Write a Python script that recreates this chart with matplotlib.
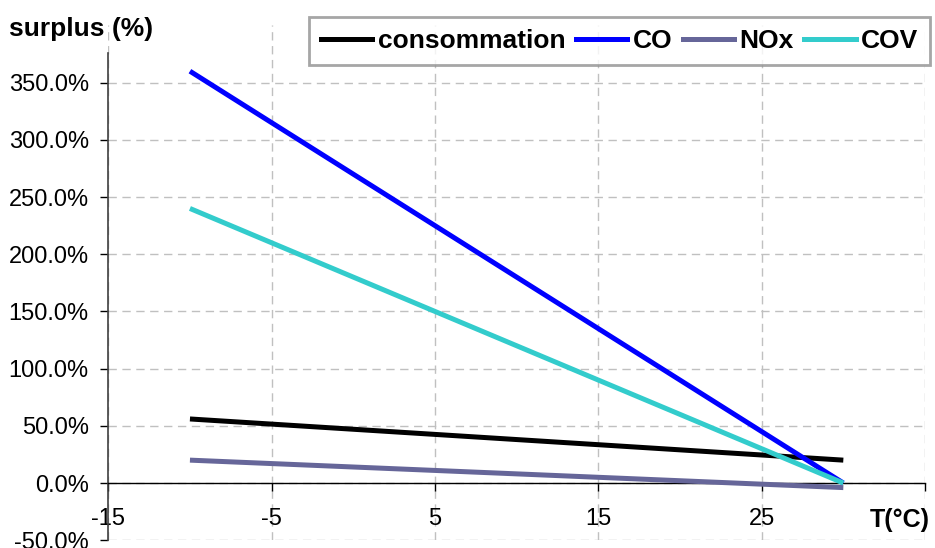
import matplotlib
matplotlib.use("Agg")
import matplotlib.pyplot as plt
from matplotlib.lines import Line2D

plt.rcParams['font.family'] = ['Liberation Sans', 'DejaVu Sans']

# data
temps = [-10, 30]
consommation = [56, 20]
co = [360, 0]
nox = [20, -4]
cov = [240, 0]

series_names = ['consommation', 'CO', 'NOx', 'COV']
series_colors = ['#000000', '#0000ff', '#666699', '#33cccc']

xticks = [-15, -5, 5, 15, 25, 35]
xtick_labels = ['-15', '-5', '5', '15', '25', '']
yticks = [-50, 0, 50, 100, 150, 200, 250, 300, 350]
ytick_labels = ['%.1f%%' % v for v in yticks]

fig = plt.figure(figsize=(9.35, 5.48), dpi=100)
ax = fig.add_axes([0.1158, 0.0142, 0.9893 - 0.1158, 0.9536 - 0.0142])

for vals, name, col in zip([consommation, co, nox, cov], series_names, series_colors):
    ax.plot(temps, vals, color=col, lw=3.6, label=name, solid_capstyle='butt', zorder=3)

ax.set_xlim(-15, 35)
ax.set_ylim(-50, 400)
ax.set_xticks(xticks)
ax.set_xticklabels(xtick_labels)
ax.set_yticks(yticks)
ax.set_yticklabels(ytick_labels)

# gridlines
ax.grid(True, color='#c0c0c0', linestyle=(0, (6, 4)), lw=1)
ax.set_axisbelow(True)

# axes: x axis crosses at 0
ax.spines['top'].set_visible(False)
ax.spines['right'].set_visible(False)
ax.spines['bottom'].set_position(('data', 0))
ax.spines['bottom'].set_linewidth(1.0)
ax.spines['left'].set_bounds(-50, 376)
ax.spines['left'].set_linewidth(1.2)
ax.spines['left'].set_color('#404040')

ax.tick_params(axis='x', direction='out', length=6, width=1, labelsize=17, pad=12)
ax.tick_params(axis='y', direction='out', length=6, width=1, labelsize=17, pad=8)

fig.text(9 / 935, 1 - 36 / 548, 'surplus (%)', fontsize=19, fontweight='bold',
         ha='left', va='baseline')
fig.text(870 / 935, 1 - 527 / 548, 'T(°C)', fontsize=18, fontweight='bold',
         ha='left', va='baseline')

handles = [Line2D([0], [0], color=c, lw=3.6) for c in series_colors]
leg = fig.legend(handles, series_names, loc='upper left',
                 bbox_to_anchor=(309 / 935, 1 - 17 / 548), borderaxespad=0,
                 ncol=4, frameon=True, fancybox=False, handlelength=1.95,
                 handletextpad=0.2, columnspacing=0.4, borderpad=0.45,
                 prop={'size': 19, 'weight': 'bold'})
leg.get_frame().set_edgecolor('#909090')
leg.get_frame().set_linewidth(2)

fig.savefig('out.png', dpi=100)
